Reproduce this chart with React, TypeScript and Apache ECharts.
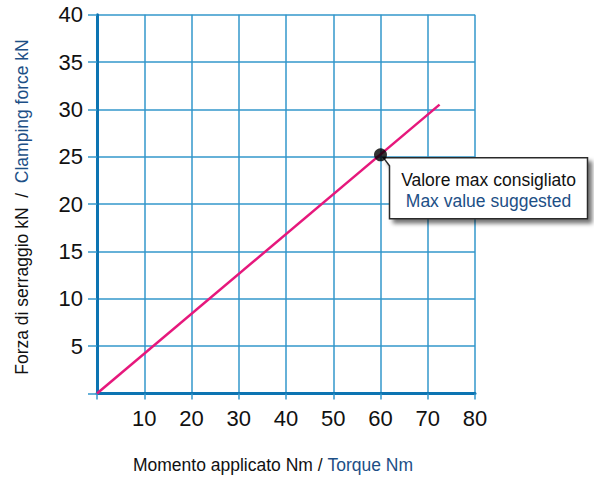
import React, { useEffect, useRef } from "react";
import * as echarts from "echarts";

const xTicks = [0, 10, 20, 30, 40, 50, 60, 70, 80];
const yTicks = [0, 5, 10, 15, 20, 25, 30, 35, 40];
const torqueNm = [0, 72.5];
const clampKN = [0, 30.5];
const maxPoint = [60, 25.2];
const calloutLine1 = "Valore max consigliato";
const calloutLine2 = "Max value suggested";
const xNameIt = "Momento applicato Nm / ";
const xNameEn = "Torque Nm";
const yNameIt = "Forza di serraggio kN  /  ";
const yNameEn = "Clamping force kN";

const GRID_C = "#3397cb";
const AXIS_C = "#0c74b2";
const BLUE_T = "#1d4f86";
const FONT = "'Liberation Sans Narrow', 'Liberation Sans', Arial, sans-serif";
const FONT2 = "'Liberation Sans', Arial, sans-serif";

export default function App() {
  const ref = useRef<HTMLDivElement>(null);
  useEffect(() => {
    const chart = echarts.init(ref.current!, undefined, { renderer: "svg" });
    const left = 97, right = 475, top = 14.7, bottom = 393.5;
    chart.setOption({
      animation: false,
      grid: { left, top, width: right - left, height: bottom - top },
      xAxis: {
        type: "value",
        min: xTicks[0],
        max: xTicks[xTicks.length - 1],
        interval: xTicks[1] - xTicks[0],
        axisLine: { show: true, onZero: false, lineStyle: { color: AXIS_C, width: 3 } },
        axisTick: { show: true, length: 6, lineStyle: { color: GRID_C, width: 1.5 } },
        splitLine: { show: true, lineStyle: { color: GRID_C, width: 1.5 } },
        axisLabel: {
          margin: 14,
          color: "#111",
          fontSize: 22,
          fontFamily: FONT,
          formatter: (v: number) => (v === 0 ? "" : String(v)),
        },
      },
      yAxis: {
        type: "value",
        min: yTicks[0],
        max: yTicks[yTicks.length - 1],
        interval: yTicks[1] - yTicks[0],
        axisLine: { show: true, onZero: false, lineStyle: { color: AXIS_C, width: 3 } },
        axisTick: { show: true, length: 9, lineStyle: { color: GRID_C, width: 1.5 } },
        splitLine: { show: true, lineStyle: { color: GRID_C, width: 1.5 } },
        axisLabel: {
          margin: 14,
          color: "#111",
          fontSize: 22,
          fontFamily: FONT,
          formatter: (v: number) => (v === 0 ? "" : String(v)),
        },
      },
      series: [
        {
          type: "line",
          data: torqueNm.map((x, i) => [x, clampKN[i]]),
          symbol: "none",
          lineStyle: { color: "#e6187c", width: 2.5 },
          z: 3,
        },
        {
          type: "scatter",
          data: [maxPoint],
          symbolSize: 13,
          itemStyle: { color: "#000" },
          z: 10,
        },
      ],
    });
    const p = chart.convertToPixel({ gridIndex: 0 }, maxPoint) as number[];
    const tx = p[0] + 3, ty = p[1] + 3;
    const bx = p[0] + 9, by = p[1] + 3, bw = 198, bh = 61;
    chart.setOption({
      graphic: [
        {
          type: "polygon",
          z: 5,
          shape: {
            points: [
              [tx, ty],
              [bx + 7, by],
              [bx + bw, by],
              [bx + bw, by + bh],
              [bx, by + bh],
              [bx, by + 8],
            ],
          },
          style: {
            fill: "#fff",
            stroke: "#2a2a2a",
            lineWidth: 1.5,
            shadowColor: "rgba(0,0,0,0.55)",
            shadowBlur: 4,
            shadowOffsetX: 4,
            shadowOffsetY: 4,
          },
        },
        {
          type: "text",
          z: 6,
          x: bx + bw / 2,
          y: by + 22,
          style: {
            text: calloutLine1,
            fill: "#111",
            font: `17.5px ${FONT2}`,
            align: "center",
            verticalAlign: "middle",
          },
        },
        {
          type: "text",
          z: 6,
          x: bx + bw / 2,
          y: by + 43,
          style: {
            text: calloutLine2,
            fill: BLUE_T,
            font: `17.5px ${FONT2}`,
            align: "center",
            verticalAlign: "middle",
          },
        },
        {
          type: "text",
          x: 273,
          y: 465,
          style: {
            text: `{a|${xNameIt}}{b|${xNameEn}}`,
            align: "center",
            verticalAlign: "middle",
            rich: {
              a: { fill: "#111", fontSize: 17.5, fontFamily: FONT2 },
              b: { fill: BLUE_T, fontSize: 17.5, fontFamily: FONT2 },
            },
          },
        },
        {
          type: "text",
          x: 22,
          y: 207,
          rotation: Math.PI / 2,
          style: {
            text: `{a|${yNameIt}}{b|${yNameEn}}`,
            align: "center",
            verticalAlign: "middle",
            rich: {
              a: { fill: "#111", fontSize: 17.5, fontFamily: FONT2 },
              b: { fill: BLUE_T, fontSize: 17.5, fontFamily: FONT2 },
            },
          },
        },
      ],
    });
    return () => chart.dispose();
  }, []);
  return <div ref={ref} style={{ width: 594, height: 477, position: "absolute", left: 0, top: 0, background: "#fff" }} />;
}
